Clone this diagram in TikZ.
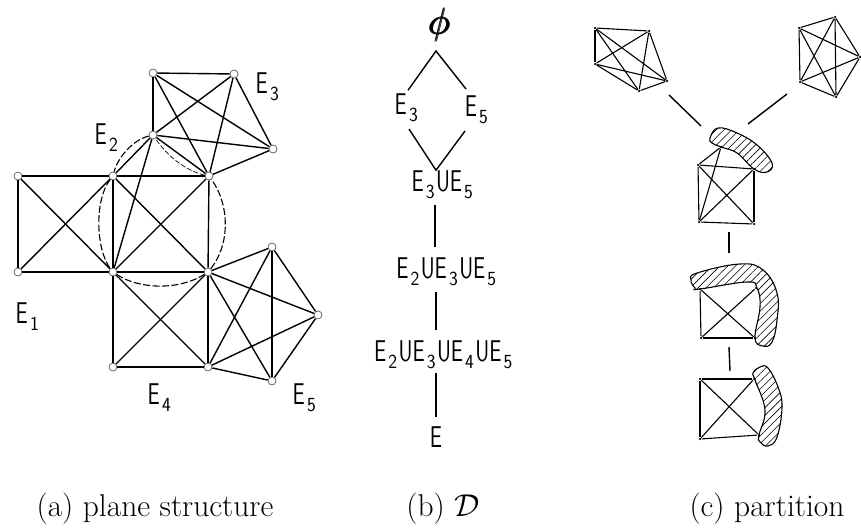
\documentclass[tikz,border=0pt]{standalone}
\usepackage{amsmath}
\usetikzlibrary{patterns.meta}
\newcommand{\ES}[1]{E\kern3pt\raisebox{-7pt}{\scalebox{1.3}[1]{\fontsize{20}{20}\selectfont #1}}\kern2pt}
\newcommand{\lbl}[1]{\scalebox{0.72}[1]{\fontsize{30}{30}\sffamily\selectfont #1}}
\tikzset{
  vertex/.style={circle, draw=black!60, fill=white, line width=0.8pt, inner sep=0pt, minimum size=8pt},
  dotv/.style={circle, fill=black, inner sep=0pt, minimum size=2.5pt},
  tag/.style={inner sep=0pt},
  captext/.style={inner sep=0pt, font=\fontsize{31.5}{36}\selectfont},
  blob/.style={line width=1.1pt, pattern={Lines[angle=45, distance=5.5pt, line width=0.6pt]}}
}
\begin{document}
\begin{tikzpicture}[x=1pt, y=-1pt, line width=1.4pt]
  \useasboundingbox (0,0) rectangle (861,527);
  % plane structure
  \foreach \n/\x/\y in {p1/18/176, p2/18/272, p3/113/176, p4/209/176, p5/113/272, p6/208/272,
      p7/113/367, p8/208/367, p9/153/73, p10/234/74, p11/273/149, p12/153/135,
      p13/272/247, p14/318/315, p15/272/381}
    { \node[vertex] (\n) at (\x,\y) {}; }
  \foreach \a/\b in {p1/p2, p1/p3, p1/p5, p2/p3, p2/p5, p3/p4, p3/p5, p3/p6, p4/p5, p4/p6, p5/p6,
      p5/p7, p5/p8, p6/p7, p6/p8, p7/p8, p12/p3, p12/p5,
      p9/p10, p9/p12, p9/p11, p9/p4, p10/p12, p10/p11, p10/p4, p11/p12, p11/p4, p12/p4,
      p6/p13, p6/p14, p6/p15, p8/p13, p8/p14, p8/p15, p13/p14, p13/p15, p14/p15}
    { \draw (\a) -- (\b); }
  \draw[dashed, dash pattern=on 7pt off 2.5pt, line width=1.1pt]
    (p12) .. controls (133,140) and (118,157) .. (p3)
    (p3) .. controls (94,200) and (96,250) .. (p5)
    (p5) .. controls (140,290) and (180,290) .. (p6)
    (p6) .. controls (230,245) and (230,205) .. (p4);
  \draw[dashed, dash pattern=on 5pt off 2pt, line width=0.7pt]
    (p4) .. controls (190,172) and (170,160) .. (p12);
  \node[tag] (ea) at (268,87) {\lbl{\ES{3}}};
  \node[tag] (eb) at (107,138) {\lbl{\ES{2}}};
  \node[tag] (ec) at (28,317) {\lbl{\ES{1}}};
  \node[tag] (ed) at (160,398) {\lbl{\ES{4}}};
  \node[tag] (ee) at (305,398) {\lbl{\ES{5}}};
  % lattice
  \node[tag] (empty) at (440,25) {\scalebox{1.5}{\fontsize{24}{24}\selectfont$\pmb{\phi}$}};
  \coordinate (top) at (436,51);
  \node[tag] (d3) at (407,108) {\lbl{\ES{3}}};
  \node[tag] (d5) at (477,110) {\lbl{\ES{5}}};
  \node[tag] (u35) at (443,185) {\lbl{\ES{3}U\ES{5}}};
  \node[tag] (u235) at (447,272) {\lbl{\ES{2}U\ES{3}U\ES{5}}};
  \node[tag] (u2345) at (444,355) {\lbl{\ES{2}U\ES{3}U\ES{4}U\ES{5}}};
  \node[tag] (all) at (436,437) {\lbl{E}};
  \draw (d3.north) ++(1,-3) -- (top) -- (466,89);
  \draw (409,129) -- (top |- u35.north) -- (465,131);
  \draw (top |- u35.south) ++(-1,5) -- (435,247);
  \draw (top |- u235.south) ++(0,5) -- (436,330);
  \draw (top |- u2345.south) ++(0,3) -- (436,417);
  % partition
  \begin{scope}[line width=1.1pt]
    \foreach \n/\x/\y in {l1/595/28, l2/649/31, l3/667/81, l4/639/91, l5/595/64,
        r1/835/17, r2/860/57, r3/836/97, r4/800/82, r5/799/28,
        s1/698/165, s2/754/169, s3/699/222, s4/754/224, s5/721/147,
        m1/700/289, m2/756/288, m3/701/338, m4/755/338,
        b1/700/379, b2/754/379, b3/700/439, b4/759/435}
      { \node[dotv] (\n) at (\x,\y) {}; }
    \foreach \f in {l, r}
      \foreach \a/\b in {1/2, 1/3, 1/4, 1/5, 2/3, 2/4, 2/5, 3/4, 3/5, 4/5}
        { \draw (\f\a) -- (\f\b); }
    \foreach \a/\b in {s1/s2, s1/s3, s1/s4, s1/s5, s2/s3, s2/s4, s3/s4, s3/s5,
        m1/m3, m1/m4, m2/m3, m3/m4, b1/b2, b1/b3, b1/b4, b2/b3, b3/b4}
      { \draw (\a) -- (\b); }
    \draw[blob] plot[smooth cycle, tension=0.7] coordinates {(710,138) (718,128) (737,133) (757,145)
      (772,163) (767,172) (754,169) (737,153) (721,147) (712,143)};
    \draw[blob] plot[smooth cycle, tension=0.7] coordinates {(691,280) (697,273) (740,264) (763,270)
      (777,293) (777,320) (772,342) (763,346) (755,338) (760,307) (757,288) (747,282) (700,289) (695,288)};
    \draw[blob] plot[smooth cycle, tension=0.7] coordinates {(753,373) (760,367) (768,368) (778,387)
      (782,407) (777,437) (768,446) (760,442) (759,435) (765,410) (755,380)};
  \end{scope}
  \draw (l3) ++(2,14) -- (701,126);
  \draw (r4) ++(-13,12) -- (748,124);
  \draw (729,232) -- (729,253);
  \draw (729,347) -- (730,371);
  % captions
  \node[captext] (capa) at (155,509) {(a) plane structure};
  \node[captext] (capb) at (443,509) {(b) \scalebox{1.27}{\fontsize{24}{24}\selectfont$\mathcal{D}$}};
  \node[captext] (capc) at (767,509) {(c) partition};
\end{tikzpicture}
\end{document}
